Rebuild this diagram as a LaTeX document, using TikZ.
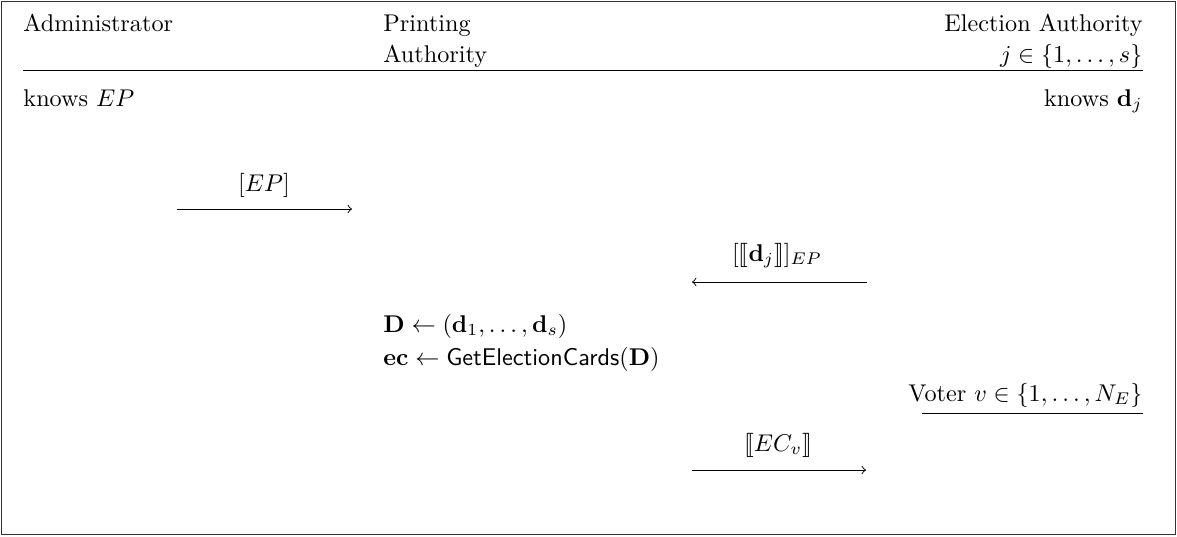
\documentclass[tikz,border=0pt]{standalone}
\usepackage{amsmath}
\usepackage{stmaryrd}
\begin{document}
\begin{tikzpicture}[x=0.413pt,y=-0.413pt,
  lbl/.style={inner sep=0pt},
  msg/.style={->},
  hrule/.style={line width=0.4pt}]
\useasboundingbox (0,0) rectangle (1177,536);
\draw[hrule,black!80] (1.2,1.2) rectangle (1175.2,534);
% header
\node[lbl,anchor=base west] (adm) at (23,31) {Administrator};
\node[lbl,anchor=base west] (pa1) at (383,31) {Printing};
\node[lbl,anchor=base west] (pa2) at (383,62) {Authority};
\node[lbl,anchor=base east] (ea1) at (1143,31) {Election Authority};
\node[lbl,anchor=base east] (ea2) at (1143,62) {$j\in\{1,\dots,s\}$};
\coordinate (hl) at (23,70);
\coordinate (hr) at (1143,70);
\draw[hrule] (hl) -- (hr);
% knows
\node[lbl,anchor=base west] (kadm) at (23,106) {knows $EP$};
\node[lbl,anchor=base east] (kea) at (1143,106) {knows $\mathbf{d}_j$};
% message 1
\coordinate (m1a) at (177,209);
\coordinate (m1b) at (352,209);
\draw[msg] (m1a) -- (m1b);
\node[lbl,anchor=base] (m1l) at (264,191) {$[EP]$};
% message 2
\coordinate (m2a) at (867,282);
\coordinate (m2b) at (692,282);
\draw[msg] (m2a) -- (m2b);
\node[lbl,anchor=base] (m2l) at (777,261) {$[\llbracket\mathbf{d}_j\rrbracket]_{EP}$};
% computations
\node[lbl,anchor=base west] (c1) at (383,332) {$\mathbf{D}\leftarrow(\mathbf{d}_1,\dots,\mathbf{d}_s)$};
\node[lbl,anchor=base west] (c2) at (383,365) {$\mathbf{ec}\leftarrow\textsf{GetElectionCards}(\mathbf{D})$};
% voter
\node[lbl,anchor=base east] (vt) at (1143,401) {Voter $v\in\{1,\dots,N_E\}$};
\coordinate (vl) at (922,413);
\coordinate (vr) at (1143,413);
\draw[hrule] (vl) -- (vr);
% message 3
\coordinate (m3a) at (692,470);
\coordinate (m3b) at (866,470);
\draw[msg] (m3a) -- (m3b);
\node[lbl,anchor=base] (m3l) at (778,451) {$\llbracket EC_v\rrbracket$};
\end{tikzpicture}
\end{document}
